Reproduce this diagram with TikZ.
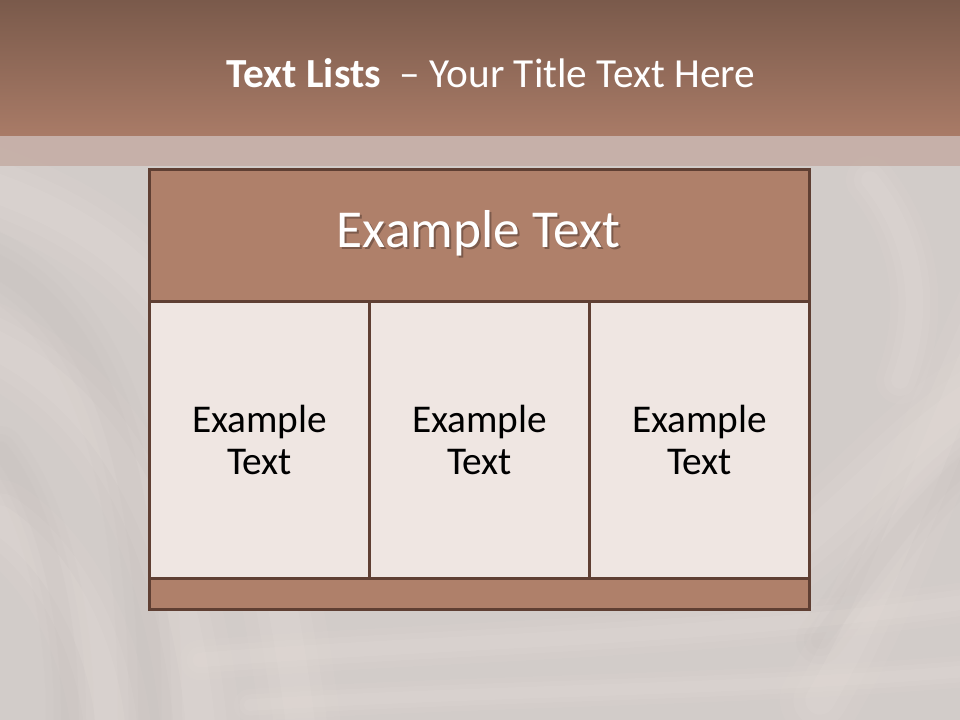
\documentclass[tikz,border=0pt]{standalone}
\usepackage{fontspec}
\setmainfont{Carlito}
\definecolor{bgbase}{HTML}{D2CCC9}
\definecolor{bglight}{HTML}{E4DCD8}
\definecolor{bgdark}{HTML}{C8C2BF}
\definecolor{bandtop}{HTML}{7A5A4B}
\definecolor{bandbot}{HTML}{A97B67}
\definecolor{glass}{HTML}{C3AAA1}
\definecolor{edge}{HTML}{5F3F33}
\definecolor{headfill}{HTML}{AF806A}
\definecolor{cellfill}{HTML}{EFE6E2}
\definecolor{shadowc}{HTML}{7C5A4B}
\tikzset{
  tablebox/.style={draw=edge, line width=2.3pt, inner sep=0pt, anchor=north west},
  headbox/.style={tablebox, fill=headfill, minimum width=495pt, minimum height=99pt},
  cellbox/.style={tablebox, fill=cellfill, minimum width=165pt, minimum height=207.75pt,
    align=center, font=\fontsize{29.5}{32}\selectfont, text=black},
  footbox/.style={tablebox, fill=headfill, minimum width=495pt, minimum height=23.25pt},
  swirl/.style={line cap=round, line width=#1},
}
\newcommand\shadowtext[1]{\rlap{\hspace{1.5pt}\raisebox{-1.5pt}{\textcolor{shadowc}{#1}}}#1}
\begin{document}
\begin{tikzpicture}[x=0.75pt,y=-0.75pt]
\useasboundingbox (0,0) rectangle (960,720);
% background
\fill[bgbase] (0,0) rectangle (960,720);
\begin{scope}
\clip (0,136) rectangle (960,720);
\foreach \w/\o in {60/0.12,40/0.15,22/0.2}{
  \draw[bglight, opacity=\o, swirl=\w pt] (-60,170) .. controls (150,230) and (250,330) .. (300,720);
  \draw[bglight, opacity=\o, swirl=\w pt] (-40,330) .. controls (100,380) and (180,520) .. (200,720);
  \draw[bglight, opacity=\o, swirl=\w pt] (0,520) .. controls (60,560) and (100,640) .. (110,720);
  \draw[bglight, opacity=\o, swirl=\w pt] (820,700) .. controls (880,600) and (930,450) .. (1000,300);
  \draw[bglight, opacity=\o, swirl=\w pt] (780,560) .. controls (860,500) and (920,420) .. (1000,380);
  \draw[bglight, opacity=\o, swirl=0.6*\w pt] (870,180) .. controls (910,230) and (930,300) .. (900,380);
  \draw[bglight, opacity=\o, swirl=0.5*\w pt] (200,660) .. controls (450,640) and (700,640) .. (980,600);
  \draw[bglight, opacity=\o, swirl=0.4*\w pt] (250,705) .. controls (500,690) and (750,690) .. (980,670);
  \draw[bgdark, opacity=\o, swirl=0.8*\w pt] (-40,250) .. controls (80,290) and (150,420) .. (150,720);
  \draw[bgdark, opacity=\o, swirl=0.6*\w pt] (0,450) .. controls (40,500) and (70,600) .. (70,720);
  \draw[bgdark, opacity=\o, swirl=0.6*\w pt] (820,640) .. controls (880,560) and (930,480) .. (1000,440);
}
\end{scope}
% top band
\shade[top color=bandtop, bottom color=bandbot] (0,0) rectangle (960,136);
\fill[glass, opacity=0.8] (0,136) rectangle (960,166);
\node[text=white, font=\fontsize{31}{36}\selectfont, anchor=base] (title) at (491,88)
  {\textbf{Text Lists}\ \ – Your Title Text Here};
% table
\node[headbox] (head) at (148,168) {};
\node[cellbox] (c1) at (148,300) {Example\\Text};
\node[cellbox] (c2) at (368,300) {Example\\Text};
\node[cellbox] (c3) at (588,300) {Example\\Text};
\node[footbox] (foot) at (148,577) {};
\node[text=white, font=\fontsize{40}{44}\selectfont, anchor=base] (headtext) at (478.5,247.5) {\shadowtext{Example Text}};
\end{tikzpicture}
\end{document}
